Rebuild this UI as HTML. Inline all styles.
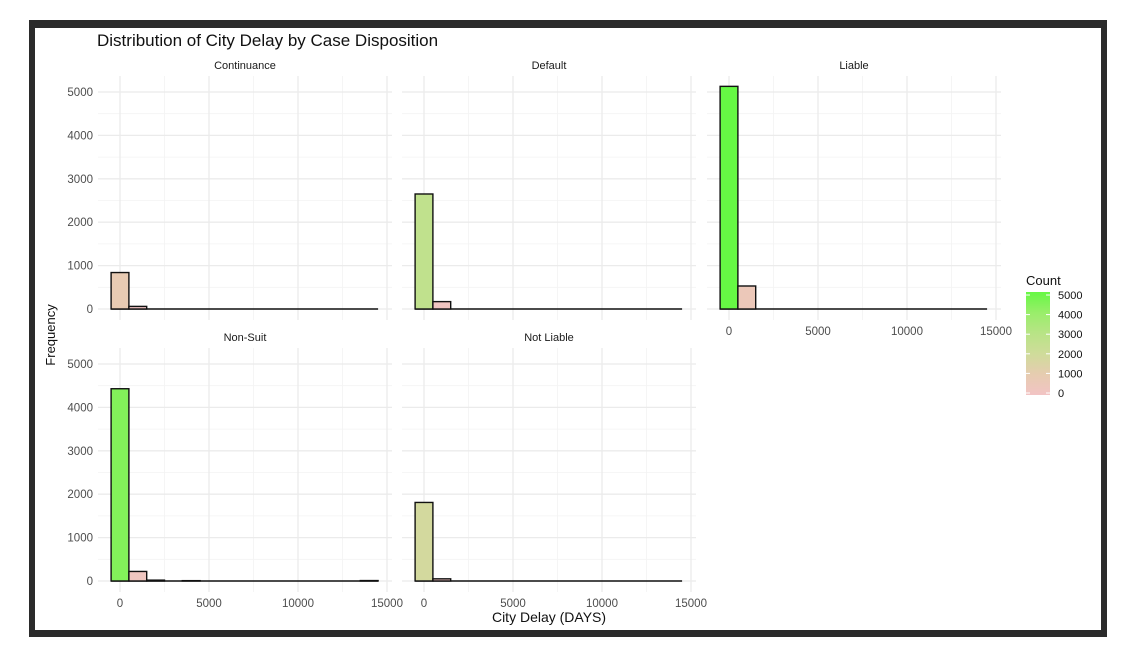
<!DOCTYPE html>
<html><head><meta charset="utf-8"><style>
body{margin:0;background:#fff;width:1136px;height:656px;overflow:hidden;font-family:"Liberation Sans",sans-serif}
</style></head><body>
<svg id="chart" width="1136" height="656" xmlns="http://www.w3.org/2000/svg" font-family="Liberation Sans, sans-serif">
<rect x="29" y="20" width="1078" height="617" fill="#2b2b2b"/>
<rect x="35" y="28" width="1066" height="602" fill="#fff"/>
<text x="97" y="46" font-size="17" fill="#111">Distribution of City Delay by Case Disposition</text>
<text transform="translate(55,335) rotate(-90)" text-anchor="middle" font-size="13" fill="#111">Frequency</text>
<text x="549" y="622" text-anchor="middle" font-size="14" fill="#111">City Delay (DAYS)</text>
<g id="panels"></g>
<g id="legend"></g>
</svg>
<script>
const panelNames=["Continuance","Default","Liable","Non-Suit","Not Liable"];
const binCenters=[0,1000,2000,3000,4000,5000,6000,7000,8000,9000,10000,11000,12000,13000,14000];
const continuanceCounts=[840,60,0,0,0,0,0,0,0,0,0,0,0,0,0];
const defaultCounts=[2650,170,0,0,0,0,0,0,0,0,0,0,0,0,0];
const liableCounts=[5130,530,0,0,0,0,0,0,0,0,0,0,0,0,0];
const nonSuitCounts=[4430,220,20,0,8,0,0,0,0,0,0,0,0,0,10];
const notLiableCounts=[1810,50,0,0,0,0,0,0,0,0,0,0,0,0,0];
const yTicks=[0,1000,2000,3000,4000,5000];
const xTicks=[0,5000,10000,15000];
const legendTicks=[0,1000,2000,3000,4000,5000];

const allCounts=[continuanceCounts,defaultCounts,liableCounts,nonSuitCounts,notLiableCounts];
const NS="http://www.w3.org/2000/svg";
const g=document.getElementById("panels");
const colX0=[120,424,729], rowY0=[309,581];
const sx=267/15000, sy=217/5000;
const stops=[[0,[242,196,196]],[1000,[230,204,176]],[2000,[207,220,154]],[3000,[184,228,134]],[4000,[153,238,106]],[5000,[102,248,68]]];
function fillFor(v){v=Math.max(0,Math.min(5000,v));for(let i=0;i<stops.length-1;i++){const a=stops[i],b=stops[i+1];if(v<=b[0]){const t=(v-a[0])/(b[0]-a[0]);const c=a[1].map((x,k)=>Math.round(x+(b[1][k]-x)*t));return`rgb(${c})`;}}return"rgb(102,248,68)";}
function el(tag,attrs,parent){const e=document.createElementNS(NS,tag);for(const k in attrs)e.setAttribute(k,attrs[k]);(parent||g).appendChild(e);return e;}
panelNames.forEach((name,i)=>{
  const row=Math.floor(i/3),col=i%3;
  const x0=colX0[col],y0=rowY0[row];
  const X=v=>x0+v*sx, Y=v=>y0-v*sy;
  const left=x0-22,right=x0+272,top=y0-233,bottom=y0+11;
  const pg=el("g",{});
  
  
  for(let v=500;v<=5500;v+=1000){if(Y(v)>top)el("line",{x1:left,x2:right,y1:Y(v),y2:Y(v),stroke:"#f3f3f3","stroke-width":0.8},pg);}
  for(let v=-2500;v<=15000;v+=5000){const x=X(v);if(x>left&&x<right)el("line",{x1:x,x2:x,y1:top,y2:bottom,stroke:"#f3f3f3","stroke-width":0.8},pg);}
  yTicks.forEach(v=>el("line",{x1:left,x2:right,y1:Y(v),y2:Y(v),stroke:"#ebebeb","stroke-width":1.3},pg));
  xTicks.forEach(v=>{const x=X(v);if(x<=right)el("line",{x1:x,x2:x,y1:top,y2:bottom,stroke:"#ebebeb","stroke-width":1.3},pg);});
  const st=el("text",{x:(left+right)/2,y:top-7,"text-anchor":"middle","font-size":11,fill:"#1a1a1a"},pg);st.textContent=name;
  
  
  const counts=allCounts[i];
  const base=el("line",{x1:X(binCenters[0]-500),x2:X(binCenters[binCenters.length-1]+500),y1:y0,y2:y0,stroke:"#111","stroke-width":1.6},pg);
  
  
  binCenters.forEach((c,j)=>{
    const v=counts[j];
    const r=el("rect",{x:X(c-500),y:Y(v),width:1000*sx,height:Math.max(0,v*sy),fill:fillFor(v),stroke:"#111","stroke-width":1.4},pg);
    
    
  });
  if(col===0){yTicks.forEach(v=>{const t=el("text",{x:left-5,y:Y(v)+4,"text-anchor":"end","font-size":11.5,fill:"#4d4d4d"},pg);t.textContent=v;
    
    });}
  if(row===1||col===2){xTicks.forEach(v=>{const t=el("text",{x:X(v),y:y0+26,"text-anchor":"middle","font-size":11.5,fill:"#4d4d4d"},pg);t.textContent=v;
    
    });}
});
const lg=document.getElementById("legend");
const lt=el("text",{x:1026,y:285,"font-size":13,fill:"#111"},lg);lt.textContent="Count";


const defs=el("defs",{},lg);
const grad=el("linearGradient",{id:"cg",x1:0,y1:1,x2:0,y2:0},defs);
stops.forEach(s=>el("stop",{offset:s[0]/5000,"stop-color":fillFor(s[0])},grad));
const LY=v=>393-v*(98/5000);
const bar=el("rect",{x:1026,y:292,width:24,height:103,fill:"url(#cg)"},lg);


legendTicks.forEach(v=>{
  el("line",{x1:1026,x2:1030,y1:LY(v),y2:LY(v),stroke:"#fff"},lg);
  el("line",{x1:1046,x2:1050,y1:LY(v),y2:LY(v),stroke:"#fff"},lg);
  const t=el("text",{x:1058,y:LY(v)+4,"font-size":11,fill:"#111"},lg);t.textContent=v;
  
  
});
</script>
</body></html>
